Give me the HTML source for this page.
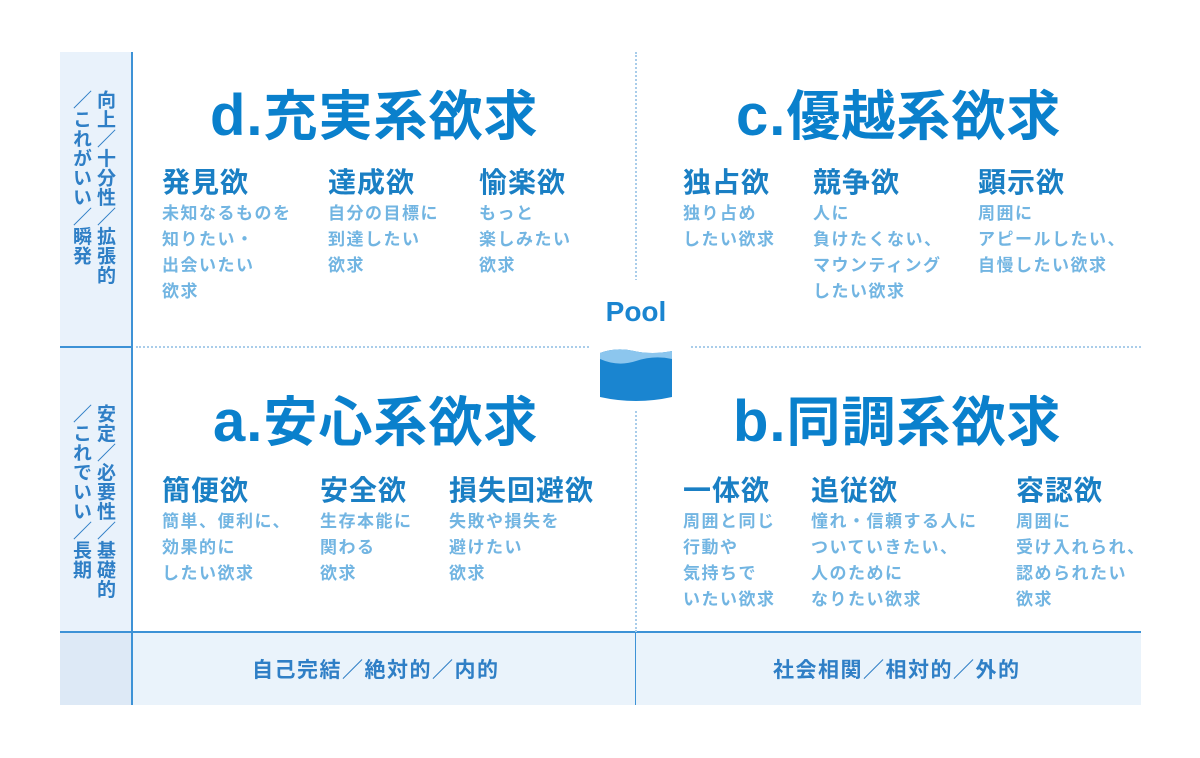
<!DOCTYPE html>
<html><head><meta charset="utf-8"><style>
body{margin:0;width:1200px;height:758px;background:#fff;position:relative;overflow:hidden;font-family:"Liberation Sans","Noto Sans CJK JP",sans-serif}
.a{position:absolute}
.t{position:absolute;font-size:54px;font-weight:bold;color:#0a80cc;line-height:1;white-space:nowrap;letter-spacing:1px}
.t b{font-size:58px}
.h{position:absolute;font-size:28px;font-weight:bold;color:#1a7fc4;line-height:1;white-space:nowrap;letter-spacing:1px}
.s{position:absolute;font-size:17px;font-weight:bold;color:#72b5e2;line-height:26px;white-space:nowrap;letter-spacing:1.5px}
.v{position:absolute;writing-mode:vertical-rl;font-size:19px;font-weight:bold;color:#2f7fc6;line-height:1;letter-spacing:0.5px}
.b{position:absolute;font-size:21px;font-weight:bold;color:#2f7fc6;white-space:nowrap;letter-spacing:1.5px}
</style></head><body>
<div class="a" style="left:60px;top:52px;width:72px;height:653px;background:#e9f2fb"></div>
<div class="a" style="left:132px;top:632px;width:1009px;height:73px;background:#eaf3fb"></div>
<div class="a" style="left:60px;top:632px;width:72px;height:73px;background:#dde9f6"></div>
<div class="a" style="left:131px;top:52px;width:2px;height:653px;background:#3d92d6"></div>
<div class="a" style="left:60px;top:346px;width:72px;height:2px;background:#3d92d6"></div>
<div class="a" style="left:60px;top:631px;width:1081px;height:2px;background:#3d92d6"></div>
<div class="a" style="left:635px;top:632px;width:1px;height:73px;background:#3d92d6"></div>
<div class="a" style="left:635px;top:52px;width:0;height:580px;border-left:2px dotted #a9cdea"></div>
<div class="a" style="left:136px;top:346px;width:1005px;height:0;border-top:2px dotted #a9cdea"></div>
<div class="a" style="left:590px;top:280px;width:100px;height:130px;background:#fff"></div>
<svg class="a" style="left:596px;top:285px" width="80" height="125" viewBox="0 0 80 125">
<text x="40" y="36" text-anchor="middle" font-family="Liberation Sans,sans-serif" font-weight="bold" font-size="28" fill="#1a85d0">Pool</text>
<path d="M4 68 Q20 62 38 66 T76 66 L76 112 Q40 120 4 112 Z" fill="#1a85d0"/>
<path d="M4 68 Q20 62 38 66 T76 66 L76 74 Q58 70 40 76 T4 74 Z" fill="#8cc6ee"/>
</svg>
<div class="v" style="left:95px;top:90px">向上／十分性／拡張的</div>
<div class="v" style="left:71px;top:90px">／これがいい／瞬発</div>
<div class="v" style="left:95px;top:404px">安定／必要性／基礎的</div>
<div class="v" style="left:71px;top:404px">／これでいい／長期</div>
<div class="t" style="left:210px;top:87px"><b>d.</b>充実系欲求</div>
<div class="t" style="left:736px;top:87px"><b>c.</b>優越系欲求</div>
<div class="t" style="left:213px;top:393px"><b>a.</b>安心系欲求</div>
<div class="t" style="left:733px;top:393px"><b>b.</b>同調系欲求</div>
<div class="h" style="left:162px;top:169px">発見欲</div>
<div class="s" style="left:162px;top:201px">未知なるものを<br>知りたい・<br>出会いたい<br>欲求</div>
<div class="h" style="left:328px;top:169px">達成欲</div>
<div class="s" style="left:328px;top:201px">自分の目標に<br>到達したい<br>欲求</div>
<div class="h" style="left:479px;top:169px">愉楽欲</div>
<div class="s" style="left:479px;top:201px">もっと<br>楽しみたい<br>欲求</div>
<div class="h" style="left:683px;top:169px">独占欲</div>
<div class="s" style="left:683px;top:201px">独り占め<br>したい欲求</div>
<div class="h" style="left:813px;top:169px">競争欲</div>
<div class="s" style="left:813px;top:201px">人に<br>負けたくない、<br>マウンティング<br>したい欲求</div>
<div class="h" style="left:978px;top:169px">顕示欲</div>
<div class="s" style="left:978px;top:201px">周囲に<br>アピールしたい、<br>自慢したい欲求</div>
<div class="h" style="left:162px;top:477px">簡便欲</div>
<div class="s" style="left:162px;top:509px">簡単、便利に、<br>効果的に<br>したい欲求</div>
<div class="h" style="left:320px;top:477px">安全欲</div>
<div class="s" style="left:320px;top:509px">生存本能に<br>関わる<br>欲求</div>
<div class="h" style="left:449px;top:477px">損失回避欲</div>
<div class="s" style="left:449px;top:509px">失敗や損失を<br>避けたい<br>欲求</div>
<div class="h" style="left:683px;top:477px">一体欲</div>
<div class="s" style="left:683px;top:509px">周囲と同じ<br>行動や<br>気持ちで<br>いたい欲求</div>
<div class="h" style="left:811px;top:477px">追従欲</div>
<div class="s" style="left:811px;top:509px">憧れ・信頼する人に<br>ついていきたい、<br>人のために<br>なりたい欲求</div>
<div class="h" style="left:1016px;top:477px">容認欲</div>
<div class="s" style="left:1016px;top:509px">周囲に<br>受け入れられ、<br>認められたい<br>欲求</div>
<div class="b" style="left:252px;top:654px">自己完結／絶対的／内的</div>
<div class="b" style="left:773px;top:654px">社会相関／相対的／外的</div>
</body></html>
